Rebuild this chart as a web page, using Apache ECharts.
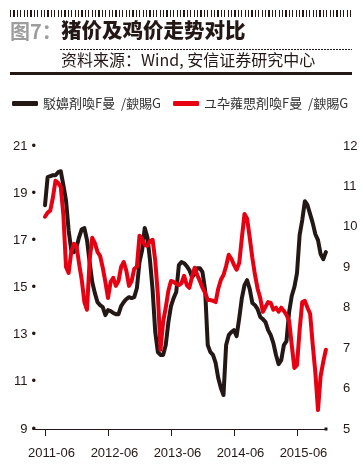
<!DOCTYPE html>
<html>
<head>
<meta charset="utf-8">
<script src="https://cdn.jsdelivr.net/npm/echarts@6/dist/echarts.min.js"></script>
<style>
html,body{margin:0;padding:0;background:#fff;}
#wrap{position:relative;width:363px;height:471px;}
#c{width:363px;height:471px;}
.deco{position:absolute;pointer-events:none;z-index:10;}
#bars{left:10px;top:10px;width:342px;height:7px;
  background:repeating-linear-gradient(90deg,#231815 0px,#231815 1.2px,rgba(0,0,0,0) 1.2px,rgba(0,0,0,0) 3.4px);}
#rule{left:10px;top:72px;width:342px;height:2.5px;background:#231815;}
</style>
</head>
<body>
<div id="wrap">
<div id="c"></div>
<div class="deco" id="bars"></div>
<div class="deco" id="rule"></div>
</div>
<script>
// Semi-monthly observations from 2011-06 to 2015-11 (index 0 = 2011-06-01)
const categories = [];
for (let i = 0; i < 108; i++) {
  const mIdx = 5 + Math.floor(i / 2);
  const yr = 2011 + Math.floor(mIdx / 12);
  const mo = (mIdx % 12) + 1;
  categories.push(yr + '-' + (mo < 10 ? '0' + mo : mo) + '-' + (i % 2 ? '16' : '01'));
}
const tickValues = [0, 24, 48, 72, 96];
const tickLabels = ['2011-06', '2012-06', '2013-06', '2014-06', '2015-06'];

const seriesNames = ['駁嬶剤喚F曼  /斔賜G', 'ユ卆蕹愳剤喚F曼  /斔賜G'];

// Black line, left axis
const hogPrice = [
  18.49, 19.68, 19.72, 19.76, 19.76, 19.89, 19.93, 19.34, 18.70, 17.43,
  16.58, 16.50, 16.71, 17.14, 17.47, 17.52, 17.01, 16.08, 15.23, 14.76,
  14.38, 14.25, 14.17, 13.83, 14.04, 14.00, 13.92, 13.87, 13.87, 14.21,
  14.38, 14.51, 14.59, 14.55, 14.59, 14.97, 16.08, 16.58, 17.52, 17.14,
  16.16, 14.89, 13.11, 12.26, 12.14, 12.14, 12.56, 13.53, 14.21, 14.55,
  14.81, 15.95, 16.08, 16.03, 15.91, 15.74, 15.44, 15.57, 15.82, 15.82,
  15.65, 14.89, 12.56, 12.26, 12.14, 11.80, 11.16, 10.74, 10.44, 12.56,
  12.98, 13.11, 13.19, 12.94, 13.70, 14.55, 15.10, 15.31, 14.93, 14.34,
  14.25, 14.08, 13.75, 13.66, 13.53, 13.19, 12.98, 12.64, 12.14, 11.75,
  11.92, 12.56, 12.73, 13.96, 14.64, 15.02, 15.61, 17.22, 17.86, 18.66,
  18.49, 18.11, 17.73, 17.26, 17.01, 16.42, 16.20, 16.50
];
// Red line, right axis
const chickenPrice = [
  10.25, 10.35, 10.40, 10.72, 11.14, 11.09, 10.99, 10.30, 9.01, 8.86,
  9.38, 9.58, 9.53, 9.08, 8.69, 8.14, 7.95, 9.18, 9.73, 9.60,
  9.38, 9.28, 8.99, 8.64, 8.24, 8.64, 8.74, 8.54, 8.66, 9.01,
  9.13, 8.91, 8.54, 8.66, 8.96, 9.01, 9.78, 9.70, 9.55, 9.53,
  9.65, 9.68, 9.16, 8.32, 6.96, 7.65, 8.00, 8.42, 8.66, 8.64,
  8.59, 8.56, 8.61, 8.79, 8.56, 8.49, 8.76, 8.99, 8.81, 8.66,
  8.49, 8.37, 8.19, 8.19, 8.17, 8.14, 8.47, 8.69, 8.81, 9.03,
  9.31, 9.21, 9.06, 8.94, 9.11, 9.73, 10.32, 10.20, 9.73, 9.23,
  8.81, 8.47, 8.24, 7.90, 8.02, 8.14, 8.12, 7.95, 8.00, 7.90,
  8.00, 7.92, 7.82, 7.67, 7.08, 6.51, 6.58, 7.45, 8.14, 8.17,
  8.00, 7.85, 7.08, 6.39, 5.47, 6.31, 6.66, 6.96
];

const chart = echarts.init(document.getElementById('c'), null, {renderer: 'canvas'});
const numFont = 'Liberation Sans';
const cjkFont = '"Noto Sans CJK SC", "Noto Sans", sans-serif';

const headerGraphics = [
  {type: 'line', id: 'dash', z: 100, shape: {x1: 60, y1: 49.5, x2: 352, y2: 49.5},
   style: {stroke: '#231815', lineWidth: 1, lineDash: [2, 1]}},
  {type: 'text', id: 't1', z: 100, left: 10, top: 21, style: {text: '图7：', fill: '#9d9d9d', font: 'bold 20px ' + cjkFont}},
  {type: 'text', id: 't2', z: 100, left: 61, top: 20, style: {text: '猪价及鸡价走势对比', fill: '#231815', font: '900 20.5px ' + cjkFont}},
  {type: 'text', id: 't3', z: 100, left: 61, top: 52, style: {text: '资料来源：Wind, 安信证券研究中心', fill: '#231815', font: '16px ' + cjkFont}}
];

chart.setOption({
  animation: false,
  graphic: {elements: headerGraphics},
  legend: {
    left: 12, top: 97, padding: 0, width: 351,
    itemWidth: 26, itemHeight: 5, itemGap: 12,
    icon: 'roundRect',
    textStyle: {fontFamily: cjkFont, fontSize: 13, color: '#333'},
    data: seriesNames
  },
  grid: {left: 33, right: 37, top: 146, bottom: 42},
  xAxis: {
    type: 'value',
    min: -4.57, max: 107.05,
    splitLine: {show: false},
    axisLine: {show: true, onZero: false, symbol: ['none', 'rect'], symbolSize: [3, 3], lineStyle: {color: '#231815', width: 1}},
    axisTick: {show: true, customValues: tickValues, length: 7, lineStyle: {color: '#231815'}},
    axisLabel: {
      customValues: tickValues,
      formatter: v => tickLabels[tickValues.indexOf(v)] || '',
      fontFamily: numFont, fontSize: 13, color: '#231815', margin: 18,
      padding: [0, 0, 0, 13]
    }
  },
  yAxis: [
    {
      type: 'value', min: 9, max: 21, interval: 2,
      splitLine: {show: false}, axisLine: {show: false}, axisTick: {show: false},
      axisLabel: {
        margin: -3,
        formatter: v => '{v|' + v + '}{d|•}',
        rich: {
          v: {fontFamily: numFont, fontSize: 13, color: '#231815'},
          d: {fontFamily: numFont, fontSize: 13, color: '#231815', padding: [0, 0, 0, 4]}
        }
      }
    },
    {
      type: 'value', min: 5, max: 12, interval: 1,
      splitLine: {show: false}, axisLine: {show: false}, axisTick: {show: false},
      axisLabel: {margin: 17, fontFamily: numFont, fontSize: 13, color: '#231815'}
    }
  ],
  series: [
    {
      name: seriesNames[0], type: 'line', yAxisIndex: 0,
      data: hogPrice.map((v, i) => [i, v]),
      showSymbol: false, symbol: 'none',
      itemStyle: {color: '#231815'},
      lineStyle: {color: '#231815', width: 4, join: 'round', cap: 'round'}
    },
    {
      name: seriesNames[1], type: 'line', yAxisIndex: 1,
      data: chickenPrice.map((v, i) => [i, v]),
      showSymbol: false, symbol: 'none',
      itemStyle: {color: '#e60012'},
      lineStyle: {color: '#e60012', width: 4, join: 'round', cap: 'round'}
    }
  ]
});
</script>
</body>
</html>
